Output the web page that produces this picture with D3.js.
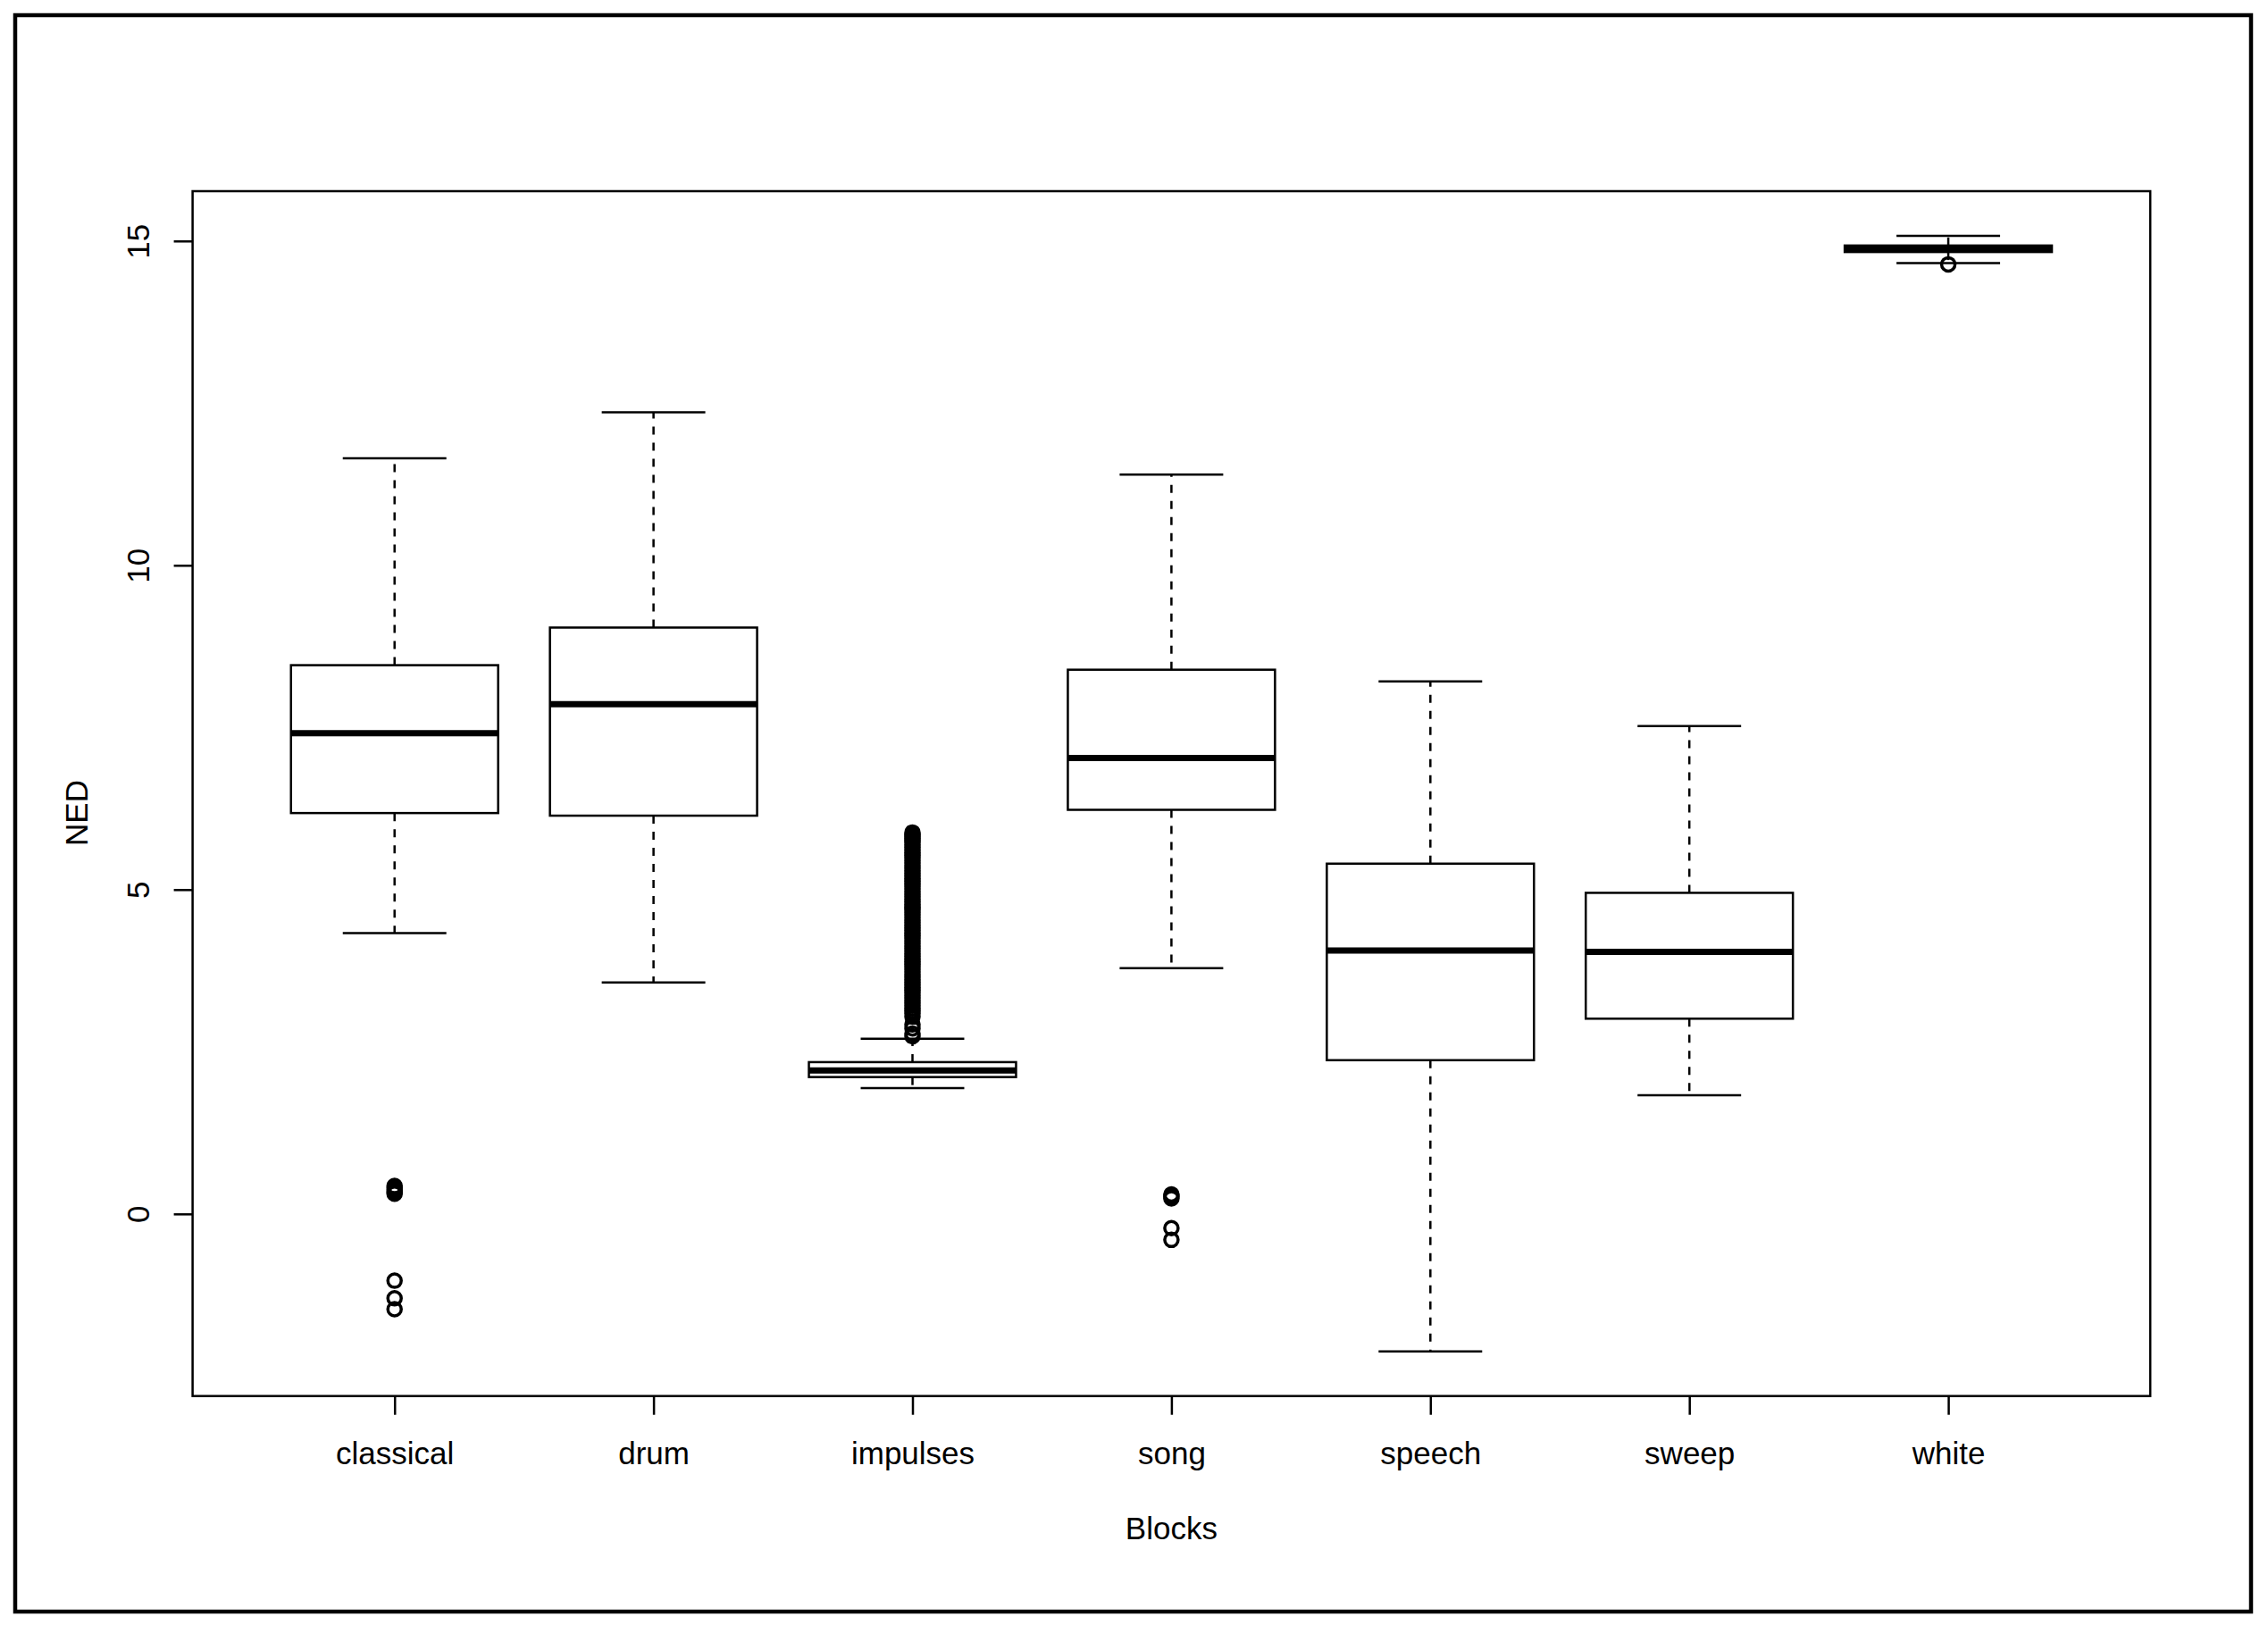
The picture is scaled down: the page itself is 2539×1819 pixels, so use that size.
<!DOCTYPE html>
<html>
<head>
<meta charset="utf-8">
<script src="https://cdn.jsdelivr.net/npm/d3@7"></script>
<style>
  html, body { margin: 0; padding: 0; background: #fff; }
  svg { display: block; }
  text { font-family: "Liberation Sans", Arial, Helvetica, sans-serif; fill: #000; }
</style>
</head>
<body>
<svg id="chart" width="2539" height="1819"></svg>
<script>
// ---------- data ----------
const categories = ["classical", "drum", "impulses", "song", "speech", "sweep", "white"];
const whiskerLow  = [4.33, 3.57, 1.94, 3.79, -2.12, 1.83, 14.66];
const q1          = [6.18, 6.14, 2.11, 6.23, 2.37, 3.01, 14.83];
const median      = [7.41, 7.86, 2.21, 7.03, 4.06, 4.04, 14.88];
const q3          = [8.46, 9.04, 2.34, 8.39, 5.40, 4.95, 14.93];
const whiskerHigh = [11.65, 12.36, 2.70, 11.40, 8.21, 7.52, 15.08];

const outliersClassical = [0.43, 0.40, 0.37, 0.34, 0.31, -1.03, -1.30, -1.47];
const outliersDrum = [];
const outliersImpulses = [2.74, 2.78, 2.86, 2.92, 3.04, 3.09, 3.13, 3.17, 3.21, 3.25, 3.29,
  3.33, 3.37, 3.41, 3.45, 3.49, 3.53, 3.57, 3.61, 3.65, 3.69, 3.73, 3.77, 3.81, 3.85,
  3.89, 3.93, 3.97, 4.01, 4.05, 4.09, 4.13, 4.17, 4.21, 4.25, 4.29, 4.33, 4.37, 4.41,
  4.45, 4.49, 4.53, 4.57, 4.61, 4.65, 4.69, 4.73, 4.77, 4.81, 4.85, 4.89, 4.93, 4.97,
  5.01, 5.05, 5.09, 5.13, 5.17, 5.21, 5.25, 5.29, 5.33, 5.37, 5.41, 5.45, 5.49, 5.53,
  5.57, 5.61, 5.65, 5.69, 5.73, 5.76, 5.79, 5.82, 5.85, 5.88];
const outliersSong = [0.30, 0.27, 0.24, -0.22, -0.40];
const outliersSpeech = [];
const outliersSweep = [];
const outliersWhite = [14.64];
const outliers = [outliersClassical, outliersDrum, outliersImpulses, outliersSong,
                  outliersSpeech, outliersSweep, outliersWhite];

const yTicks = [0, 5, 10, 15];
const xTitle = "Blocks";
const yTitle = "NED";

// ---------- layout ----------
const plot = { left: 215.6, right: 2407.2, top: 214, bottom: 1562.7 };
const LW = 2.5;

const svg = d3.select("#chart");

// outer border
svg.append("rect")
  .attr("x", 17).attr("y", 17).attr("width", 2503).attr("height", 1787)
  .attr("fill", "none").attr("stroke", "#000").attr("stroke-width", 4.5);

// scales (R style: 4% extension)
const n = categories.length;
const xLo = 0.5, xHi = n + 0.5;
const xPad = (xHi - xLo) * 0.04;
const x = d3.scaleLinear().domain([xLo - xPad, xHi + xPad]).range([plot.left, plot.right]);

const allVals = [].concat(whiskerLow, whiskerHigh, ...outliers);
const yMin = d3.min(allVals), yMax = d3.max(allVals);
const yPad = (yMax - yMin) * 0.04;
const y = d3.scaleLinear().domain([yMin - yPad, yMax + yPad]).range([plot.bottom, plot.top]);

// plot frame
svg.append("rect")
  .attr("x", plot.left).attr("y", plot.top)
  .attr("width", plot.right - plot.left).attr("height", plot.bottom - plot.top)
  .attr("fill", "none").attr("stroke", "#000").attr("stroke-width", LW);

// axes
const xAxis = d3.axisBottom(x)
  .tickValues(d3.range(1, n + 1))
  .tickFormat(i => categories[i - 1])
  .tickSize(21).tickPadding(20);
const gx = svg.append("g").attr("transform", `translate(0,${plot.bottom})`).call(xAxis);
gx.select(".domain").remove();
gx.selectAll(".tick line").attr("stroke", "#000").attr("stroke-width", LW);
gx.selectAll(".tick text")
  .attr("font-size", 35).attr("dy", null).attr("y", 1639 - plot.bottom)
  .style("font-family", '"Liberation Sans", Arial, sans-serif');

const yAxis = d3.axisLeft(y).tickValues(yTicks).tickFormat(d3.format("d")).tickSize(21);
const gy = svg.append("g").attr("transform", `translate(${plot.left},0)`).call(yAxis);
gy.select(".domain").remove();
gy.selectAll(".tick line").attr("stroke", "#000").attr("stroke-width", LW);
gy.selectAll(".tick text")
  .attr("font-size", 35).attr("x", null).attr("dy", null)
  .attr("text-anchor", "middle")
  .attr("transform", `translate(${167 - plot.left},0) rotate(-90)`)
  .style("font-family", '"Liberation Sans", Arial, sans-serif');

// titles
svg.append("text").attr("x", x((1 + n) / 2)).attr("y", 1723)
  .attr("text-anchor", "middle").attr("font-size", 35).text(xTitle);
svg.append("text").attr("transform", `translate(98,910) rotate(-90)`)
  .attr("text-anchor", "middle").attr("font-size", 35).text(yTitle);

// boxes
const step = x(2) - x(1);
const boxW = step * 0.8;
const capW = boxW / 2;

const g = svg.append("g");
categories.forEach((c, i) => {
  const cx = x(i + 1);
  const bg = g.append("g");
  // whiskers (dashed)
  bg.append("line").attr("x1", cx).attr("x2", cx)
    .attr("y1", y(q3[i])).attr("y2", y(whiskerHigh[i]))
    .attr("stroke", "#000").attr("stroke-width", LW).attr("stroke-dasharray", "9,9");
  bg.append("line").attr("x1", cx).attr("x2", cx)
    .attr("y1", y(q1[i])).attr("y2", y(whiskerLow[i]))
    .attr("stroke", "#000").attr("stroke-width", LW).attr("stroke-dasharray", "9,9");
  // caps
  [whiskerHigh[i], whiskerLow[i]].forEach(v => {
    bg.append("line").attr("x1", cx - capW / 2).attr("x2", cx + capW / 2)
      .attr("y1", y(v)).attr("y2", y(v))
      .attr("stroke", "#000").attr("stroke-width", LW);
  });
  // box
  bg.append("rect")
    .attr("x", cx - boxW / 2).attr("width", boxW)
    .attr("y", y(q3[i])).attr("height", y(q1[i]) - y(q3[i]))
    .attr("fill", "#fff").attr("stroke", "#000").attr("stroke-width", LW);
  // median
  bg.append("line").attr("x1", cx - boxW / 2).attr("x2", cx + boxW / 2)
    .attr("y1", y(median[i])).attr("y2", y(median[i]))
    .attr("stroke", "#000").attr("stroke-width", 7);
  // outliers
  bg.selectAll("circle.out").data(outliers[i]).enter().append("circle")
    .attr("class", "out")
    .attr("cx", cx).attr("cy", d => y(d)).attr("r", 7.5)
    .attr("fill", "none").attr("stroke", "#000").attr("stroke-width", 3.5);
});
</script>
</body>
</html>
